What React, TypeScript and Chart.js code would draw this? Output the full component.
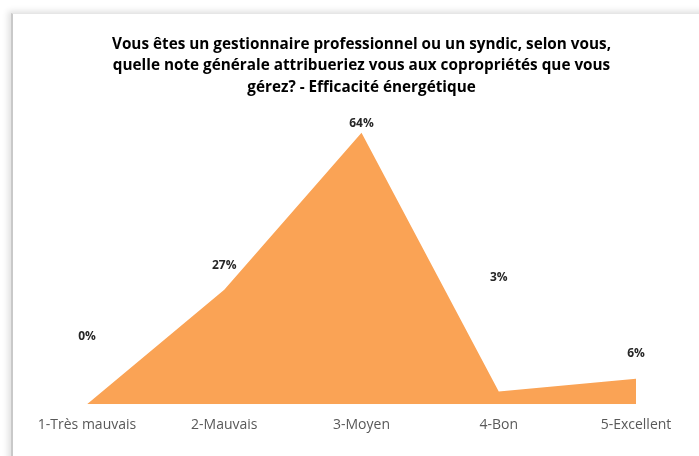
import React, { useEffect, useRef } from "react";
import { Chart, registerables } from "chart.js";

Chart.register(...registerables);

const titleLines = [
  "Vous êtes un gestionnaire professionnel ou un syndic, selon vous,",
  "quelle note générale attribueriez vous aux copropriétés que vous",
  "gérez? - Efficacité énergétique",
];
const categories = ["1-Très mauvais", "2-Mauvais", "3-Moyen", "4-Bon", "5-Excellent"];
const values = [0, 27, 64, 3, 6];
const valueLabels = ["0%", "27%", "64%", "3%", "6%"];
// heights (in value units) where Excel placed each data label
const labelAnchors = [15.9, 32.6, 66.2, 29.9, 11.9];

const labelPlugin = {
  id: "areaLabels",
  afterDatasetsDraw(chart: any) {
    const ctx = chart.ctx;
    const meta = chart.getDatasetMeta(0);
    const yScale = chart.scales.y;
    ctx.save();
    ctx.font = "bold 12px 'Open Sans', sans-serif";
    ctx.fillStyle = "#262626";
    ctx.textAlign = "center";
    ctx.textBaseline = "middle";
    meta.data.forEach((pt: any, i: number) => {
      ctx.fillText(valueLabels[i], pt.x, yScale.getPixelForValue(labelAnchors[i]));
    });
    ctx.restore();
  },
};

export default function App() {
  const ref = useRef<HTMLCanvasElement>(null);
  useEffect(() => {
    document.body.style.margin = "0";
    const chart = new Chart(ref.current!, {
      type: "line",
      data: {
        labels: categories,
        datasets: [
          {
            data: values,
            fill: "origin",
            backgroundColor: "#FAA355",
            borderColor: "#FAA355",
            borderWidth: 0,
            pointRadius: 0,
            tension: 0,
          },
        ],
      },
      options: {
        animation: false,
        responsive: false,
        events: [],
        layout: { padding: { left: 76, right: 83, top: 0, bottom: 11 } },
        plugins: {
          legend: { display: false },
          tooltip: { enabled: false },
          title: {
            display: true,
            text: titleLines,
            color: "#000000",
            font: { size: 15.3, weight: "bold", family: "'Open Sans', sans-serif", lineHeight: 1.4 },
            padding: { top: 21, bottom: 9 },
          },
        },
        scales: {
          x: {
            offset: false,
            grid: { display: false, drawTicks: false },
            border: { display: false },
            ticks: {
              color: "#595959",
              padding: 12,
              maxRotation: 0,
              autoSkip: false,
              font: { size: 14, family: "'Open Sans', sans-serif" },
            },
          },
          y: { display: false, min: 0, max: 70 },
        },
      },
      plugins: [labelPlugin],
    });
    return () => chart.destroy();
  }, []);
  return (
    <div style={{ position: "fixed", left: 0, top: 0, width: 699, height: 456, overflow: "hidden", background: "#fff" }}>
      <div
        style={{
          position: "absolute",
          left: 11,
          top: 13,
          width: 760,
          height: 520,
          background: "#fff",
          borderLeft: "2px solid #c9c9c9",
          borderTop: "1px solid #e6e6e6",
          boxShadow: "-3px -2px 6px rgba(0,0,0,0.12)",
        }}
      />
      <canvas ref={ref} width={708} height={443} style={{ position: "absolute", left: 11, top: 13 }} />
    </div>
  );
}
